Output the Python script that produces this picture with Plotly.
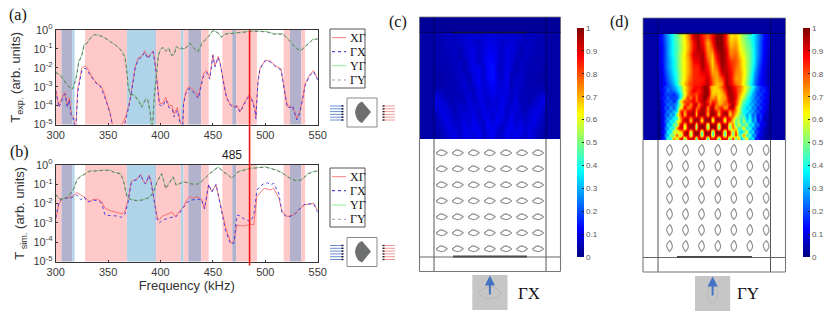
import plotly.graph_objects as go

W, H = 830, 321

# ── Band shading (same in both spectra) ─────────────────────────────
band_start = [300, 305.5, 316, 328, 368, 395, 396, 419.5, 422, 426.5, 439, 459, 468.5, 472.5, 517.5, 523.5, 534.5]
band_end = [305.5, 316, 318, 368, 395, 396, 419.5, 422, 426.5, 439, 446, 468.5, 472.5, 492, 523.5, 534.5, 538]
band_kind = ['p', 'g', 'b', 'p', 'b', 'g', 'p', 'b', 'p', 'g', 'p', 'p', 'g', 'p', 'p', 'g', 'p']
band_colors = {'p': '#FFC9C9', 'g': '#B2B2CC', 'b': '#AFD3E9'}

mark_freq = 485

# ── Panel (a): measured transmission ────────────────────────────────
a_low_f = [300, 303, 305, 307, 309, 311, 313, 315, 317, 319, 321, 323, 325, 328, 330, 333, 336, 340, 343, 346,
           349, 352, 354, 356, 360, 363, 366, 368, 371, 374, 376, 379, 382, 385, 388, 390, 393, 395, 397, 399,
           402, 405, 408, 411, 413, 416, 419, 421, 422, 424, 427, 430, 433, 436, 438, 441, 444, 447, 450, 452,
           455, 457, 460, 463, 467, 470, 473, 476, 480, 484, 487, 490, 491, 493, 495, 500, 505, 510, 515, 518,
           521, 524, 526, 528, 530, 533, 536, 538, 542, 546, 550]
a_xg = [-3.15, -4.0, -3.75, -3.4, -3.3, -4.0, -3.6, -4.5, -4.6, -5.4, -3.1, -2.45, -2.0, -1.9, -2.0, -2.3, -2.6, -2.85, -2.95, -3.3,
        -3.85, -4.4, -5.0, -5.4, -5.1, -5.0, -4.7, -4.35, -3.65, -2.6, -1.9, -1.45, -1.4, -1.1, -1.45, -1.3, -1.1, -1.8, -3.0, -3.85,
        -3.9, -3.55, -4.0, -4.0, -4.45, -4.1, -4.85, -5.3, -3.85, -3.3, -3.0, -3.1, -3.25, -3.55, -3.05, -2.3, -2.15, -2.5, -1.3, -1.9,
        -1.4, -1.75, -2.7, -3.55, -3.95, -4.05, -4.0, -4.3, -3.85, -3.45, -3.6, -4.1, -4.6, -2.7, -2.0, -1.6, -1.65, -1.9, -2.05, -3.15,
        -4.05, -4.0, -4.15, -4.3, -4.7, -4.3, -3.5, -2.85, -2.4, -2.15, -2.6]
a_gx = [-3.2, -4.1, -3.85, -3.5, -3.4, -4.1, -3.7, -4.65, -4.7, -5.5, -3.3, -2.65, -2.15, -2.02, -2.1, -2.4, -2.65, -2.92, -3.0, -3.4,
        -3.9, -4.45, -5.1, -5.5, -5.3, -5.2, -4.95, -4.5, -3.75, -2.7, -1.98, -1.55, -1.45, -1.18, -1.52, -1.36, -1.16, -1.88, -3.05, -3.95,
        -4.05, -3.7, -4.1, -4.15, -4.6, -4.25, -5.05, -5.5, -3.95, -3.4, -3.1, -3.2, -3.4, -3.62, -3.15, -2.45, -2.25, -2.6, -1.35, -1.95,
        -1.45, -1.8, -2.75, -3.6, -4.0, -4.1, -4.05, -4.35, -3.92, -3.55, -3.68, -4.2, -4.7, -2.8, -2.05, -1.62, -1.7, -1.95, -2.12, -3.2,
        -4.1, -4.1, -4.0, -4.4, -4.75, -4.4, -3.6, -2.95, -2.45, -2.2, -2.65]

a_high_f = [300, 305, 310, 315, 317, 320, 322, 325, 327, 330, 333, 337, 342, 347, 352, 357, 362, 366, 368, 369,
            371, 375, 380, 382, 386, 388, 390, 391, 392, 394, 396, 398, 400, 402, 405, 408, 410, 413, 415, 418,
            420, 423, 428, 433, 436, 439.5, 446, 450, 455, 458, 462, 470, 482.5, 492, 501.5, 508, 517, 524, 530, 534,
            538, 545, 550]
a_yg = [-2.2, -2.4, -2.8, -3.1, -3.0, -2.35, -1.65, -1.3, -0.78, -0.68, -0.42, -0.23, -0.28, -0.41, -0.6, -0.78, -1.03, -1.4, -2.2, -2.9,
        -3.45, -3.4, -3.8, -4.05, -3.6, -3.7, -4.3, -5.0, -5.5, -3.5, -2.2, -1.3, -1.03, -0.9, -1.1, -0.94, -1.3, -1.3, -0.85, -1.0,
        -0.94, -1.0, -0.68, -1.0, -1.12, -0.68, -0.32, -0.02, -0.14, -0.36, -0.2, -0.14, -0.08, -0.05, -0.08, -0.2, -0.2, -0.6, -0.98, -1.07,
        -0.85, -0.5, -0.46]
a_gy = [-2.25, -2.45, -2.85, -3.15, -3.05, -2.42, -1.72, -1.34, -0.82, -0.7, -0.44, -0.25, -0.3, -0.43, -0.62, -0.8, -1.05, -1.43, -2.25, -2.95,
        -3.4, -3.45, -3.85, -4.1, -3.65, -3.72, -4.35, -5.1, -5.5, -3.6, -2.28, -1.35, -1.06, -0.93, -1.13, -0.97, -1.33, -1.32, -0.87, -1.02,
        -0.96, -1.03, -0.7, -1.03, -1.14, -0.72, -0.35, -0.04, -0.16, -0.38, -0.22, -0.16, -0.1, -0.07, -0.1, -0.22, -0.22, -0.63, -1.0, -1.1,
        -0.88, -0.53, -0.48]

# ── Panel (b): simulated transmission ───────────────────────────────
b_low_f = [300, 303, 306, 310, 315, 318, 320, 324, 327, 330, 332, 336, 340, 344, 347, 352, 358, 363, 366, 369,
           372, 375, 378, 381, 384, 386, 389, 391, 393, 395, 397, 399, 402, 405, 408, 411, 414, 418, 422, 425,
           428, 431, 435, 439, 442, 446, 449, 453, 457, 462, 467, 470, 473, 476, 480, 486, 489, 492, 495, 499,
           502, 505, 508, 513, 516, 521, 527, 537, 546, 550]
b_xg = [-2.8, -2.07, -1.75, -1.72, -1.64, -1.55, -1.43, -1.55, -1.65, -1.78, -1.9, -1.78, -1.78, -1.9, -2.24, -2.36, -2.47, -2.53, -2.41, -1.81,
        -0.86, -0.78, -0.7, -0.48, -0.86, -0.95, -0.52, -0.86, -1.55, -2.24, -2.76, -2.84, -2.64, -2.58, -2.53, -2.44, -2.67, -2.41, -2.16, -1.81,
        -1.64, -1.72, -1.64, -1.78, -2.24, -1.03, -1.38, -1.03, -1.98, -3.19, -4.05, -3.97, -3.1, -3.15, -3.15, -3.07, -3.1, -1.64, -1.45, -1.2,
        -1.25, -1.29, -1.2, -1.72, -2.41, -2.67, -2.59, -2.07, -1.98, -2.34]
b_gx = [-2.75, -1.95, -1.7, -1.72, -1.7, -1.62, -1.55, -1.8, -1.65, -1.9, -1.9, -1.82, -1.85, -1.98, -2.59, -2.62, -2.64, -2.71, -2.55, -1.95,
        -0.95, -0.8, -0.76, -0.5, -0.9, -0.98, -0.55, -0.9, -1.6, -2.3, -2.85, -3.0, -2.85, -2.8, -2.75, -2.7, -2.72, -2.5, -2.2, -1.95,
        -1.85, -1.8, -1.8, -1.75, -2.28, -1.0, -1.4, -1.0, -2.05, -3.4, -4.1, -4.05, -2.59, -2.64, -2.81, -2.93, -2.6, -1.3, -1.1, -0.95,
        -0.92, -1.03, -0.95, -1.5, -2.5, -2.7, -2.6, -2.05, -2.0, -2.45]

b_high_f = [300, 303, 306, 310, 314, 318, 320, 323, 326, 329, 332, 340, 345, 352, 356, 362, 365, 368, 372, 378,
            384, 390, 394, 396, 398, 401, 403, 405, 408, 412, 415, 418, 422, 426, 431, 435, 439, 447, 455, 460,
            465, 468, 474, 485, 500, 511, 517, 524, 530, 535, 541, 548, 550]
b_yg = [-1.5, -1.72, -1.76, -1.7, -1.47, -1.12, -0.78, -0.6, -0.52, -0.43, -0.31, -0.29, -0.26, -0.26, -0.38, -0.43, -0.86, -1.64, -1.78, -1.84,
        -1.78, -1.64, -1.3, -0.95, -0.7, -0.43, -0.78, -1.2, -0.95, -0.6, -1.03, -0.95, -0.86, -0.9, -0.98, -0.98, -0.86, -0.43, -0.09, -0.34,
        -0.52, -0.69, -0.34, -0.17, -0.09, -0.26, -0.43, -0.69, -0.81, -0.74, -0.43, -0.31, -0.31]
b_gy = [-1.53, -1.75, -1.79, -1.72, -1.5, -1.15, -0.82, -0.63, -0.54, -0.45, -0.33, -0.31, -0.28, -0.28, -0.4, -0.45, -0.9, -1.67, -1.8, -1.86,
        -1.8, -1.67, -1.33, -0.98, -0.73, -0.45, -0.8, -1.23, -0.98, -0.63, -1.06, -0.98, -0.88, -0.93, -1.0, -1.0, -0.88, -0.45, -0.11, -0.36,
        -0.54, -0.71, -0.36, -0.19, -0.11, -0.28, -0.45, -0.71, -0.83, -0.76, -0.45, -0.33, -0.33]

decades = [-5, -4, -3, -2, -1, 0]
freq_ticks = [300, 350, 400, 450, 500, 550]

# ── Panels (c), (d): field maps, top row first ──────────────────────
c_field = [
    [.05, .05, .06, .06, .06, .07, .07, .08, .08, .08, .08, .09, .09, .08, .08, .08, .08, .07, .07, .06, .06, .06, .05, .05],
    [.05, .05, .06, .07, .06, .07, .08, .09, .08, .07, .09, .10, .10, .09, .07, .08, .09, .08, .07, .06, .07, .06, .05, .05],
    [.05, .05, .06, .06, .07, .05, .08, .09, .10, .07, .09, .11, .11, .09, .07, .10, .09, .08, .05, .07, .06, .06, .05, .05],
    [.05, .05, .05, .06, .07, .05, .07, .09, .10, .07, .09, .12, .12, .09, .07, .10, .09, .07, .05, .07, .06, .05, .05, .05],
    [.05, .05, .05, .06, .06, .07, .05, .09, .10, .07, .09, .13, .13, .09, .07, .10, .09, .05, .07, .06, .05, .05, .05, .05],
    [.04, .05, .05, .05, .06, .07, .05, .08, .10, .11, .07, .12, .14, .08, .07, .11, .08, .05, .07, .06, .05, .05, .05, .04],
    [.04, .04, .05, .05, .06, .07, .07, .05, .10, .11, .07, .12, .14, .09, .07, .11, .05, .07, .07, .06, .05, .05, .04, .04],
    [.04, .04, .05, .05, .05, .07, .08, .05, .09, .12, .08, .10, .13, .09, .08, .11, .05, .08, .07, .05, .05, .05, .04, .04],
    [.05, .05, .05, .05, .05, .06, .08, .07, .06, .11, .08, .09, .12, .09, .09, .10, .06, .08, .06, .05, .05, .05, .05, .05],
    [.09, .08, .05, .05, .06, .05, .07, .09, .06, .10, .09, .08, .10, .09, .10, .09, .06, .09, .05, .06, .05, .05, .08, .09],
    [.10, .09, .08, .05, .06, .07, .06, .10, .07, .09, .10, .07, .09, .08, .11, .08, .07, .10, .06, .06, .05, .08, .09, .10],
    [.08, .10, .09, .07, .05, .08, .07, .09, .09, .07, .11, .08, .10, .09, .11, .07, .09, .09, .07, .05, .08, .09, .10, .07],
    [.06, .09, .10, .08, .06, .07, .09, .08, .11, .07, .10, .10, .07, .11, .10, .07, .11, .08, .08, .06, .09, .10, .09, .06],
    [.05, .07, .10, .09, .07, .08, .10, .08, .12, .08, .07, .12, .09, .12, .08, .08, .12, .08, .10, .07, .09, .10, .07, .05],
    [.05, .06, .08, .10, .09, .07, .11, .09, .11, .11, .06, .11, .11, .09, .06, .11, .11, .09, .11, .08, .10, .08, .06, .05],
    [.04, .05, .07, .09, .10, .07, .10, .11, .08, .12, .07, .09, .12, .07, .08, .12, .09, .11, .09, .07, .10, .08, .05, .04],
]
d_field_top = [
    [.12, .22, .32, .44, .52, .62, .74, .93, .96, .85, .78, .88, .99, .99, .85, .65, .68, .58, .50, .42, .35, .25, .14, .08],
    [.11, .21, .32, .42, .50, .60, .72, .88, .97, .88, .70, .85, .99, .99, .85, .68, .72, .60, .52, .45, .35, .24, .13, .08],
    [.10, .20, .32, .42, .50, .60, .72, .88, .96, .92, .72, .78, .97, .99, .90, .72, .75, .62, .55, .47, .36, .24, .13, .07],
    [.10, .20, .32, .42, .52, .62, .75, .92, .92, .96, .75, .70, .90, .99, .92, .75, .78, .66, .58, .48, .36, .24, .12, .06],
    [.10, .20, .30, .40, .52, .62, .72, .88, .90, .97, .80, .66, .85, .99, .92, .82, .80, .70, .60, .48, .36, .22, .12, .06],
    [.09, .20, .30, .40, .52, .62, .72, .85, .85, .96, .86, .68, .78, .97, .93, .85, .78, .70, .60, .48, .34, .20, .10, .06],
    [.08, .18, .28, .38, .50, .62, .72, .84, .85, .90, .90, .72, .72, .92, .95, .88, .75, .72, .62, .46, .30, .18, .10, .05],
    [.08, .16, .26, .36, .50, .62, .75, .84, .85, .85, .93, .78, .70, .80, .96, .88, .72, .72, .60, .44, .28, .16, .10, .05],
    [.08, .14, .22, .32, .50, .66, .80, .85, .85, .88, .95, .80, .68, .72, .97, .90, .78, .72, .58, .40, .25, .15, .10, .05],
]
# finer grid for the ripple just above the lattice
d_field_bottom = [
    [.08, .12, .18, .20, .22, .28, .34, .44, .54, .64, .74, .80, .86, .88, .86, .92, .98, .96, .75, .68, .66, .70, .78, .88, .97, .96, .90, .84, .78, .74, .66, .58, .48, .38, .30, .22, .16, .14, .10, .06],
    [.06, .14, .16, .24, .20, .24, .30, .40, .52, .64, .74, .82, .90, .86, .84, .90, .98, .98, .78, .66, .66, .66, .72, .82, .94, .97, .92, .86, .78, .72, .64, .54, .44, .34, .24, .22, .14, .18, .10, .05],
    [.05, .10, .20, .16, .20, .14, .22, .34, .46, .60, .74, .85, .82, .80, .86, .92, .98, .98, .80, .66, .70, .66, .68, .76, .90, .96, .94, .88, .76, .68, .60, .50, .40, .28, .26, .16, .20, .12, .12, .05],
    [.05, .16, .14, .24, .16, .20, .18, .34, .50, .66, .84, .74, .90, .76, .88, .92, .99, .92, .74, .72, .78, .64, .70, .72, .84, .96, .95, .88, .72, .62, .56, .44, .34, .30, .20, .24, .14, .16, .10, .04],
    [.04, .10, .22, .16, .26, .14, .24, .60, .74, .82, .80, .88, .90, .78, .86, .94, .96, .84, .74, .84, .82, .68, .70, .76, .84, .94, .94, .84, .70, .56, .46, .38, .36, .24, .28, .16, .20, .10, .10, .04],
    [.04, .14, .14, .26, .18, .24, .28, .50, .60, .78, .88, .72, .90, .96, .74, .88, .96, .90, .78, .92, .80, .70, .72, .80, .76, .86, .97, .84, .66, .54, .42, .40, .28, .32, .20, .24, .12, .16, .08, .04],
    [.04, .10, .22, .16, .30, .18, .34, .58, .68, .90, .74, .78, .96, .80, .78, .96, .96, .72, .90, .96, .72, .80, .86, .70, .76, .94, .96, .74, .60, .46, .42, .30, .38, .22, .28, .14, .20, .10, .10, .03],
    [.03, .14, .14, .28, .20, .34, .30, .80, .88, .72, .90, .92, .94, .72, .92, .96, .94, .74, .94, .96, .90, .72, .90, .94, .92, .72, .84, .74, .62, .48, .34, .40, .26, .32, .18, .22, .12, .14, .06, .03],
    [.03, .08, .24, .18, .34, .24, .56, .74, .92, .66, .92, .94, .96, .66, .94, .98, .96, .66, .96, .98, .92, .66, .92, .96, .94, .66, .82, .68, .52, .46, .44, .26, .38, .20, .28, .14, .18, .08, .08, .03],
    [.03, .14, .16, .32, .24, .42, .34, .70, .82, .92, .94, .70, .94, .96, .96, .68, .96, .98, .96, .62, .96, .96, .94, .64, .90, .88, .74, .52, .52, .42, .50, .30, .40, .24, .30, .12, .18, .06, .06, .02],
    [.02, .08, .24, .22, .40, .30, .62, .64, .86, .94, .96, .62, .96, .98, .96, .58, .98, .98, .96, .56, .98, .96, .92, .56, .90, .84, .66, .48, .56, .34, .62, .32, .48, .22, .32, .14, .14, .08, .05, .02],
    [.02, .14, .16, .36, .28, .54, .42, .86, .94, .60, .94, .96, .98, .52, .96, .98, .96, .50, .98, .98, .96, .48, .96, .96, .90, .50, .80, .44, .60, .46, .40, .58, .28, .40, .20, .26, .10, .12, .04, .02],
    [.02, .08, .26, .24, .46, .36, .78, .92, .92, .52, .92, .98, .96, .46, .98, .98, .98, .42, .96, .98, .98, .40, .98, .96, .88, .44, .78, .62, .40, .50, .70, .32, .50, .20, .28, .12, .14, .05, .04, .02],
    [.02, .14, .16, .40, .30, .66, .50, .66, .72, .94, .96, .50, .96, .98, .98, .42, .98, .96, .96, .38, .98, .98, .96, .40, .92, .90, .46, .84, .42, .30, .40, .66, .26, .38, .16, .20, .08, .08, .03, .02],
    [.02, .08, .30, .26, .58, .42, .90, .46, .66, .96, .94, .44, .94, .98, .96, .38, .96, .96, .92, .34, .96, .96, .92, .36, .90, .86, .40, .90, .44, .46, .84, .34, .52, .20, .30, .10, .12, .04, .03, .02],
    [.02, .16, .18, .48, .34, .80, .50, .84, .94, .42, .88, .94, .92, .38, .90, .94, .92, .34, .88, .92, .92, .34, .90, .92, .84, .36, .92, .42, .74, .30, .42, .70, .26, .40, .14, .16, .06, .06, .03, .02],
]
jet = [[0, '#00007F'], [0.125, '#0000FF'], [0.375, '#00FFFF'], [0.625, '#FFFF00'], [0.875, '#FF0000'], [1, '#7F0000']]

# Lens outline and lattice of the scatterers
lens_long = [-5.5, -4, -2, 0, 2, 4, 5.5, 4, 2, 0, -2, -4, -5.5]
lens_short = [0, -1.6, -2.7, -3.1, -2.7, -1.6, 0, 1.4, 2.3, 2.7, 2.3, 1.4, 0]
c_lens_x = [441.7, 457.7, 473.7, 489.7, 506, 522, 538]
c_lens_y = [153, 169, 185, 201, 217, 233, 249]
d_lens_x = [669.7, 685.7, 701.7, 718, 734, 750, 766.3]
d_lens_y = [150, 166, 182, 198, 214, 230, 246]


def dom_x(x0, x1):
    return [x0 / W, x1 / W]


def dom_y(y0, y1):
    return [1 - y1 / H, 1 - y0 / H]


def line(x0, y0, x1, y1, color='#666666', width=1, dash='solid', xref='x9'):
    return dict(type='line', x0=x0, y0=y0, x1=x1, y1=y1, xref=xref, yref='y9',
                line=dict(color=color, width=width, dash=dash))


def rect(x0, y0, x1, y1, fill='rgba(0,0,0,0)', color='#666666', width=1):
    return dict(type='rect', x0=x0, y0=y0, x1=x1, y1=y1, xref='x9', yref='y9',
                fillcolor=fill, line=dict(color=color, width=width))


def backing(x0, y0, x1, y1, fill):
    # paper refs so these land underneath the heatmap subplots
    return dict(type='rect', x0=x0 / W, x1=x1 / W, y0=1 - y0 / H, y1=1 - y1 / H, xref='paper', yref='paper',
                layer='below', fillcolor=fill, line=dict(width=0))


def label(x, y, text, size=11, family='Liberation Serif', color='#111111', xanchor='left'):
    return dict(x=x, y=y, xref='x9', yref='y9', text=text, showarrow=False, xanchor=xanchor, yanchor='middle',
                font=dict(size=size, family=family, color=color))


def pow10(vals):
    return [10 ** v for v in vals]


fig = go.Figure()

styles = [('XΓ', '#FF5A5A', 'solid', 0.8), ('ΓX', '#3434E6', 'dot', 0.9),
          ('YΓ', '#74C874', 'solid', 0.8), ('ΓY', '#6A5F74', 'dot', 0.9)]
curves = [('x', 'y', a_low_f, a_xg, a_gx, a_high_f, a_yg, a_gy),
          ('x2', 'y2', b_low_f, b_xg, b_gx, b_high_f, b_yg, b_gy)]
for xa, ya, low_f, xg, gx, high_f, yg, gy in curves:
    series = [(low_f, xg), (low_f, gx), (high_f, yg), (high_f, gy)]
    for (name, color, dash, width), (f, v) in zip(styles, series):
        fig.add_trace(go.Scatter(x=f, y=pow10(v), xaxis=xa, yaxis=ya, mode='lines', name=name, showlegend=False,
                                 line=dict(color=color, width=width, dash=dash)))

fig.add_trace(go.Heatmap(z=c_field, xaxis='x3', yaxis='y3', coloraxis='coloraxis', zsmooth='best'))
fig.add_trace(go.Heatmap(z=d_field_top, xaxis='x4', yaxis='y4', coloraxis='coloraxis2', zsmooth='best'))
fig.add_trace(go.Heatmap(z=d_field_bottom, xaxis='x5', yaxis='y5', coloraxis='coloraxis2', zsmooth='best'))

# Lens lattices, one broken line per panel
lattices = [(c_lens_x, c_lens_y, lens_long, lens_short), (d_lens_x, d_lens_y, lens_short, lens_long)]
for cx, cy, dx, dy in lattices:
    xs, ys = [], []
    for px in cx:
        for py in cy:
            xs += [px + d for d in dx] + [None]
            ys += [py + d for d in dy] + [None]
    fig.add_trace(go.Scatter(x=xs, y=ys, xaxis='x9', yaxis='y9', mode='lines', showlegend=False,
                             line=dict(color='#8C8C8C', width=1.1)))

shapes = []
for xref, yref in [('x', 'y'), ('x2', 'y2')]:
    for s, e, k in zip(band_start, band_end, band_kind):
        shapes.append(dict(type='rect', x0=s, x1=e, y0=0, y1=1, xref=xref, yref=yref + ' domain', layer='below',
                           fillcolor=band_colors[k], line=dict(width=0)))

# Dark frame behind the field maps
shapes.append(backing(419.5, 17, 560.5, 139, '#0000A6'))
shapes.append(backing(419.5, 17, 560.5, 32.5, '#000098'))
shapes.append(backing(643, 18, 785.5, 140, '#0000A8'))
shapes.append(backing(643, 18, 785.5, 33.5, '#0000A0'))

# Cell outlines (c), (d)
cells = [(419.5, 560.5, 434, 546, 17, 271.5, 139, 32.5, 257, 453, 527),
         (643, 785.5, 658, 770.5, 18, 272, 140, 33.5, 257.5, 677, 752)]
for x0, x1, ix0, ix1, y0, y1, ymap, yt, yb, s0, s1 in cells:
    for xv in (x0, x1):
        shapes.append(line(xv, ymap, xv, y1, '#777777', 1.1))
        shapes.append(line(xv, y0, xv, ymap, '#777777', 0.8))
    for xv in (ix0, ix1):
        shapes.append(line(xv, y0, xv, ymap, '#000050', 0.8))
        shapes.append(line(xv, ymap, xv, y1, '#555555', 1))
    shapes.append(line(x0, y0, x1, y0, '#777777', 0.8))
    shapes.append(line(x0, y1, x1, y1, '#777777', 1.2))
    shapes.append(line(x0, yt, x1, yt, '#000050', 0.8))
    shapes.append(line(x0, yb, x1, yb, '#666666', 1))
    shapes.append(line(s0, yt, s1, yt, '#101030', 1.6))
    shapes.append(line(s0, yb - 0.5, s1, yb - 0.5, '#4A4A4A', 1.8))

# Red marker at 485 kHz
shapes.append(line(mark_freq, 30, mark_freq, 265.5, '#F01414', 1.6, xref='x'))

annotations = [
    label(7, 15, '(a)', 16), label(8, 152, '(b)', 16), label(387, 22, '(c)', 16), label(608, 22, '(d)', 16),
    label(232, 155, '485', 12, 'Liberation Sans', '#222222', 'center'),
    label(516, 293, 'ΓX', 17), label(735, 293, 'ΓY', 17),
]

# Legends and sample icons next to the spectra
for top, ys in [(29, [37.7, 51.7, 65.7, 80]), (168, [176.7, 190.7, 205, 219.3])]:
    shapes.append(rect(330, top, 365, top + 59, fill='#FFFFFF', color='#555555', width=1))
    colors = ['#FF8080', '#2020D0', '#90EE90', '#B090C0']
    for y, (name, _, dash, _w), color in zip(ys, styles, colors):
        shapes.append(line(332, y, 346, y, color, 1, dash))
        annotations.append(label(348, y, name, 12))

for off in (0, 139.5):
    shapes.append(rect(347, 98 + off, 377, 127 + off, color='#8A8A8A', width=1))
    shapes.append(dict(type='path', xref='x9', yref='y9',
                       path=f'M 362 {101.5 + off} L 371 {112 + off} L 362 {123 + off} '
                            f'Q 356 {121 + off} 355 {112 + off} Q 356 {104 + off} 362 {101.5 + off} Z',
                       fillcolor='#6E7070', line=dict(width=0)))
    for i in range(6):
        y = 106 + 2.8 * i + off
        shapes.append(line(330, y, 343, y, '#4472C4', 0.8))
        shapes.append(line(341.5, y, 343.5, y, '#111133', 1.4))
        shapes.append(line(383, y, 395, y, '#F08080', 0.8))
        shapes.append(line(382.5, y, 384.5, y, '#332222', 1.4))

# Direction icons under (c), (d)
for sx, sy in [(472.3, 275), (695, 276)]:
    shapes.append(rect(sx, sy, sx + 35.2, sy + 35, fill='#C6C6C6', width=0))
shapes.append(dict(type='path', xref='x9', yref='y9', line=dict(color='#B4B4B4', width=0.8),
                   path='M 478 293 Q 490 280 502 293 Q 490 305 478 293 Z'))
shapes.append(dict(type='path', xref='x9', yref='y9', line=dict(color='#B4B4B4', width=0.8),
                   path='M 712.6 281 Q 723 293 712.6 305 Q 702 293 712.6 281 Z'))
for sx, sy in [(472.3, 275), (695, 276)]:
    mid = sx + 17.6
    shapes.append(line(mid, sy + 10, mid, sy + 19.5, '#4472C4', 2))
    shapes.append(dict(type='path', xref='x9', yref='y9', fillcolor='#4472C4', line=dict(width=0),
                       path=f'M {mid} {sy + 0.5} L {mid + 5} {sy + 10.5} L {mid - 5} {sy + 10.5} Z'))

tick_font = dict(size=11, family='Liberation Sans', color='#3A3A3A')
title_font = dict(size=13, family='Liberation Sans', color='#333333')


def spectrum_axes(ytitle, y0, y1, standoff, xtitle=None):
    xax = dict(domain=dom_x(55.7, 317.7), range=[300, 550], tickvals=freq_ticks, ticks='inside', ticklen=2,
               showline=True, mirror=True, linecolor='#333333', linewidth=1, showgrid=False, zeroline=False,
               tickfont=tick_font, tickcolor='#333333')
    if xtitle:
        xax['title'] = dict(text=xtitle, standoff=4, font=title_font)
    yax = dict(domain=dom_y(y0, y1), type='log', range=[-5, 0], tickvals=[10 ** d for d in decades],
               ticktext=[f'10<sup>{d}</sup>' for d in decades], ticks='inside', ticklen=2,
               showline=True, mirror=True, linecolor='#333333', linewidth=1, showgrid=False, zeroline=False,
               tickfont=tick_font, tickcolor='#333333',
               title=dict(text=ytitle, standoff=standoff, font=title_font))
    return xax, yax


xaxis1, yaxis1 = spectrum_axes('T<sub>exp.</sub> (arb. units)', 30, 124.5, 9)
xaxis2, yaxis2 = spectrum_axes('T<sub> sim.</sub> (arb. units)', 165, 261.5, 5, 'Frequency (kHz)')
for ax, a in [(xaxis1, 'y'), (xaxis2, 'y2')]:
    ax['anchor'] = a
for ax, a in [(yaxis1, 'x'), (yaxis2, 'x2')]:
    ax['anchor'] = a


def map_axes(x0, x1, y0, y1, nx, ny, anchor):
    hidden = dict(visible=False, showgrid=False, zeroline=False, fixedrange=True)
    return (dict(domain=dom_x(x0, x1), range=[-0.5, nx - 0.5], anchor='y' + anchor, **hidden),
            dict(domain=dom_y(y0, y1), range=[ny - 0.5, -0.5], anchor='x' + anchor, **hidden))


xaxis3, yaxis3 = map_axes(434, 546, 32.5, 139, len(c_field[0]), len(c_field), '3')
# the two (d) grids overlap by a couple of pixels so no seam shows
xaxis4, yaxis4 = map_axes(658, 770.5, 33.5, 88, len(d_field_top[0]), len(d_field_top), '4')
xaxis5, yaxis5 = map_axes(658, 770.5, 85.5, 140, len(d_field_bottom[0]), len(d_field_bottom), '5')


def color_axis(x0):
    return dict(colorscale=jet, cmin=0, cmax=1,
                colorbar=dict(x=x0 / W, xanchor='left', xpad=0, ypad=0, thickness=6.5, lenmode='pixels', len=229,
                              y=1 - 142.5 / H, yanchor='middle', tick0=0, dtick=0.1, ticks='inside', ticklen=1.5,
                              tickcolor='#222222', outlinewidth=0,
                              tickfont=dict(size=8, family='Liberation Sans', color='#555555')))


fig.update_layout(
    width=W, height=H, margin=dict(l=0, r=0, t=0, b=0, autoexpand=False), autosize=False,
    paper_bgcolor='white', plot_bgcolor='rgba(0,0,0,0)', showlegend=False,
    xaxis=xaxis1, yaxis=yaxis1, xaxis2=xaxis2, yaxis2=yaxis2,
    xaxis3=xaxis3, yaxis3=yaxis3, xaxis4=xaxis4, yaxis4=yaxis4, xaxis5=xaxis5, yaxis5=yaxis5,
    xaxis9=dict(domain=[0, 1], range=[0, W], visible=False, anchor='y9', fixedrange=True),
    yaxis9=dict(domain=[0, 1], range=[H, 0], visible=False, anchor='x9', fixedrange=True),
    coloraxis=color_axis(576.7), coloraxis2=color_axis(803),
    shapes=shapes, annotations=annotations,
)

fig.write_html("out.html", config=dict(displayModeBar=False),
               post_script="document.body.style.margin='0';document.body.style.overflow='hidden';")
